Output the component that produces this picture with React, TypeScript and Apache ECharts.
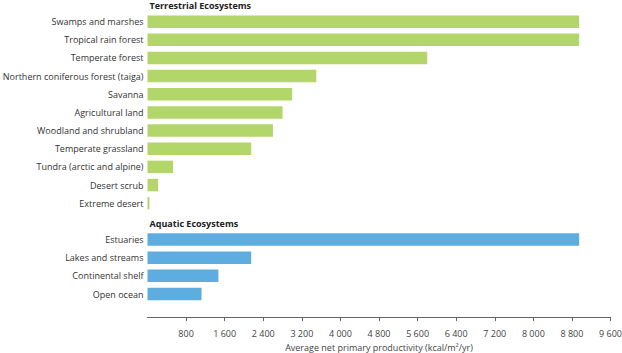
import React, { useEffect, useRef } from "react";
import * as echarts from "echarts";

const terrestrialHeader = "Terrestrial Ecosystems";
const terrestrialCategories = [
  "Swamps and marshes",
  "Tropical rain forest",
  "Temperate forest",
  "Northern coniferous forest (taiga)",
  "Savanna",
  "Agricultural land",
  "Woodland and shrubland",
  "Temperate grassland",
  "Tundra (arctic and alpine)",
  "Desert scrub",
  "Extreme desert",
];
const terrestrialValues = [8950, 8950, 5800, 3500, 3000, 2800, 2600, 2150, 530, 220, 40];

const aquaticHeader = "Aquatic Ecosystems";
const aquaticCategories = ["Estuaries", "Lakes and streams", "Continental shelf", "Open ocean"];
const aquaticValues = [8950, 2150, 1470, 1120];

const axisMin = 0;
const axisMax = 9600;
const axisInterval = 800;
const axisName = "Average net primary productivity (kcal/m²/yr)";

const GREEN = "#b2d66a";
const BLUE = "#5dade0";
const FONT = "'Open Sans', 'Noto Sans', sans-serif";

function fmt(v: number): string {
  return String(v).replace(/\B(?=(\d{3})+(?!\d))/g, " ");
}

export default function App() {
  const ref = useRef<HTMLDivElement | null>(null);

  useEffect(() => {
    if (!ref.current) return;
    const chart = echarts.init(ref.current, undefined, { renderer: "svg" });

    const headers = [terrestrialHeader, aquaticHeader];
    const categories = [terrestrialHeader, ...terrestrialCategories, aquaticHeader, ...aquaticCategories];

    const headerItem = (name: string) => ({
      value: 0,
      itemStyle: { color: "rgba(0,0,0,0)" },
      label: {
        show: true,
        position: "right",
        distance: 2,
        offset: [0, 2],
        formatter: name,
        fontFamily: FONT,
        fontSize: 9,
        fontWeight: "bold",
        color: "#222",
      },
    });

    const data = [
      headerItem(terrestrialHeader),
      ...terrestrialValues.map((v) => ({ value: v, itemStyle: { color: GREEN } })),
      headerItem(aquaticHeader),
      ...aquaticValues.map((v) => ({ value: v, itemStyle: { color: BLUE } })),
    ];

    chart.setOption({
      animation: false,
      grid: {
        left: 147.5,
        right: 11.5,
        top: -5.6,
        bottom: 49.9,
        containLabel: false,
        outerBoundsMode: "none",
      },
      xAxis: {
        type: "value",
        min: axisMin,
        max: axisMax,
        interval: axisInterval,
        position: "bottom",
        offset: 14,
        splitLine: { show: false },
        axisLine: { show: true, lineStyle: { color: "#666", width: 1 } },
        axisTick: { show: true, length: 4, lineStyle: { color: "#666" } },
        axisLabel: {
          showMinLabel: false,
          margin: 12,
          fontFamily: FONT,
          fontSize: 9,
          color: "#444",
          formatter: (v: number) => fmt(v),
        },
        name: axisName,
        nameLocation: "middle",
        nameGap: 26,
        nameTextStyle: { fontFamily: FONT, fontSize: 9, color: "#444" },
      },
      yAxis: {
        type: "category",
        inverse: true,
        data: categories,
        axisLine: { show: false },
        axisTick: { show: false },
        splitLine: { show: false },
        axisLabel: {
          margin: 4,
          fontFamily: FONT,
          fontSize: 9,
          color: "#333",
          formatter: (v: string) => (headers.includes(v) ? "" : v),
        },
      },
      series: [
        {
          type: "bar",
          data,
          barWidth: 12.5,
          itemStyle: { borderWidth: 0 },
        },
      ],
    });

    return () => chart.dispose();
  }, []);

  return (
    <div
      ref={ref}
      style={{ position: "absolute", left: 0, top: 0, width: 622, height: 353, background: "#fff" }}
    />
  );
}
